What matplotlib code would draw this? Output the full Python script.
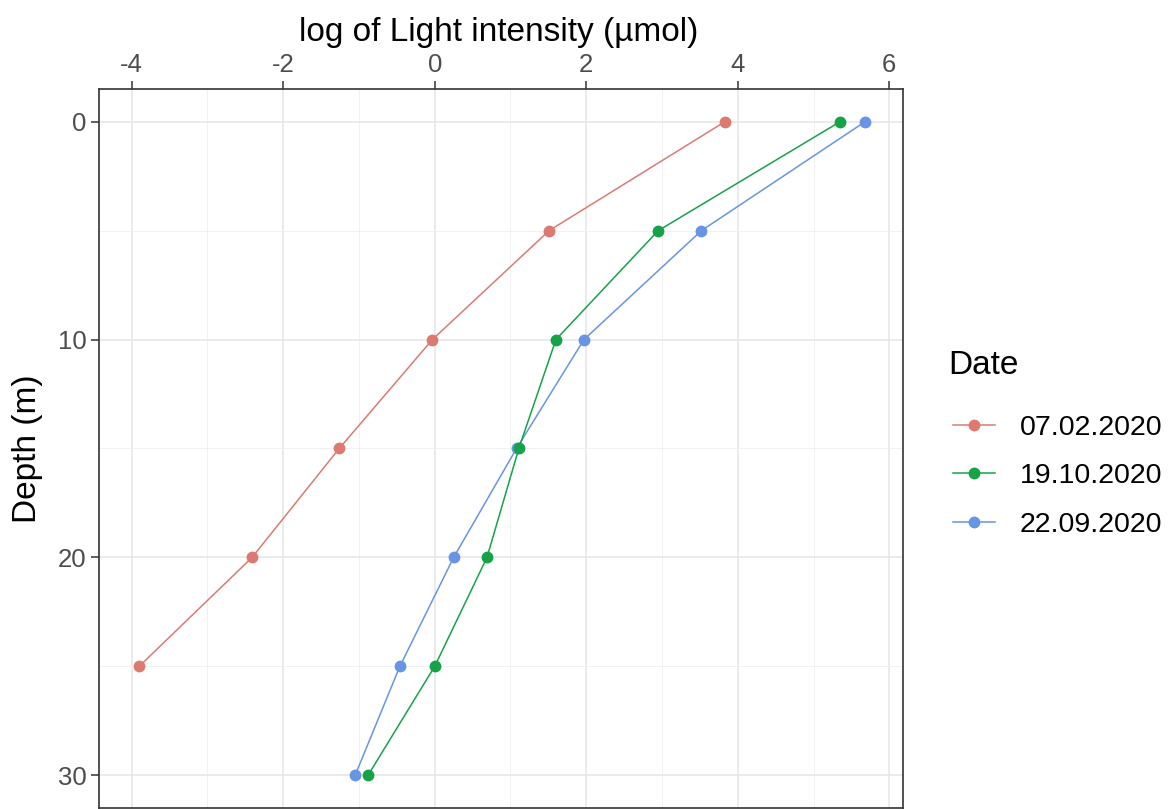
import matplotlib.pyplot as plt
from matplotlib.ticker import MultipleLocator

plt.rcParams['font.family'] = ['Liberation Sans', 'DejaVu Sans']
plt.rcParams['axes.unicode_minus'] = False

depth = [0, 5, 10, 15, 20, 25, 30]
dates = ["07.02.2020", "19.10.2020", "22.09.2020"]
light_0702 = [3.83, 1.51, -0.03, -1.26, -2.41, -3.90]
light_1910 = [5.35, 2.95, 1.60, 1.11, 0.69, 0.00, -0.88]
light_2209 = [5.68, 3.52, 1.97, 1.08, 0.25, -0.46, -1.05]
colors = ["#DC7A72", "#16A347", "#6795E4"]

fig = plt.figure(figsize=(11.76, 8.09), dpi=100)
ax = fig.add_axes([99/1176, 1/809, (903-99)/1176, (809-90)/809])

series = [light_0702, light_1910, light_2209]
zs = [3, 5, 4]
for vals, lab, c, z in zip(series, dates, colors, zs):
    ax.plot(vals, depth[:len(vals)], color=c, lw=1.1, marker='o', ms=7.5,
            label=lab, zorder=z)

ax.set_xlim(-4.43, 6.18)
ax.set_ylim(31.5, -1.5)
ax.xaxis.set_major_locator(MultipleLocator(2))
ax.xaxis.set_minor_locator(MultipleLocator(1))
ax.yaxis.set_major_locator(MultipleLocator(10))
ax.yaxis.set_minor_locator(MultipleLocator(5))
ax.xaxis.tick_top()
ax.xaxis.set_label_position('top')
ax.grid(which='major', color='#E6E6E6', lw=1.1, zorder=0)
ax.grid(which='minor', color='#EFEFEF', lw=0.6, zorder=0)
ax.set_axisbelow(True)
ax.tick_params(which='minor', length=0)
ax.tick_params(which='major', length=5.5, width=1.1, color='#333333',
               labelcolor='#4D4D4D', labelsize=18.5, pad=3.5)
for s in ax.spines.values():
    s.set_color('#333333')
    s.set_linewidth(1.2)

ax.set_xlabel("log of Light intensity (\u00b5mol)", fontsize=24)
ax.set_ylabel("Depth (m)", fontsize=24)
ax.xaxis.set_label_coords(0.497, (809 - 33 - 1) / 719)
ax.xaxis.label.set_va('center')
ax.yaxis.set_label_coords((27 - 99) / 804, 0.5)
ax.yaxis.label.set_va('center')

# legend title placed on its own, entries below
fig.text(948/1176, 1 - 365/809, "Date", fontsize=24, ha='left', va='center')
leg = fig.legend(loc='upper left', bbox_to_anchor=(927/1176, 1 - 389/809),
                 frameon=False, fontsize=20.5, handlelength=1.5,
                 handletextpad=0.85, labelspacing=0.8)

fig.savefig("out.png", dpi=100)
